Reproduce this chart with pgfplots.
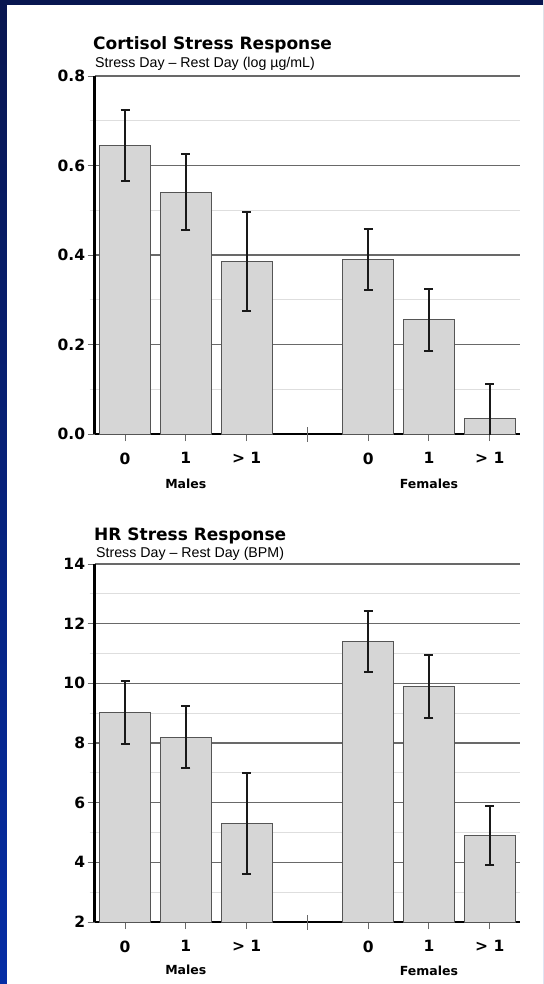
\documentclass[border=0pt]{standalone}
\usepackage{pgfplots}
\pgfplotsset{compat=1.18}
\usepackage{fontspec}
\setmainfont{DejaVu Sans}
\newfontfamily\subfont{Liberation Sans}
\definecolor{barfill}{RGB}{214,214,214}
\definecolor{baredge}{RGB}{85,85,85}
\definecolor{majgrid}{RGB}{105,105,105}
\definecolor{mingrid}{RGB}{222,222,222}
\definecolor{errc}{RGB}{25,25,25}
\definecolor{bgtop}{RGB}{8,22,80}
\definecolor{bgbot}{RGB}{5,45,165}
\pgfplotsset{
  stresschart/.style={
    scale only axis, width=425.6pt, height=358pt, anchor=south west,
    xmin=-0.5, xmax=6.5, enlargelimits=false,
    axis x line=bottom, axis y line=left,
    axis line style={-},
    x axis line style={line width=2.5pt, draw=black},
    y axis line style={line width=3pt, draw=black},
    tick align=outside, major tick length=7pt, minor tick length=5pt,
    xtick={0,1,2,4,5,6}, xticklabels={0,1,{> 1},0,1,{> 1}},
    extra x ticks={3}, extra x tick labels={},
    extra x tick style={tick align=center, major tick length=15pt},
    tick style={draw=majgrid, line width=1pt},
    minor tick style={draw=mingrid, line width=1pt},
    ymajorgrids, yminorgrids,
    major grid style={draw=majgrid, line width=1.2pt},
    minor grid style={draw=mingrid, line width=1.1pt},
    ticklabel style={font=\bfseries\fontsize{15.5}{15.5}\selectfont},
    /pgf/number format/assume math mode=true,
    xticklabel style={yshift=-8pt},
    yticklabel style={xshift=1pt},
    ybar, bar width=50.7pt,
    clip mode=individual,
  },
  stressbars/.style={fill=barfill, draw=baredge, line width=0.9pt,
    error bars/y dir=both, error bars/y explicit,
    error bars/error bar style={line width=2pt, draw=errc},
    error bars/error mark options={rotate=90, mark size=4.5pt, line width=2pt, draw=errc}},
}
\begin{document}
\begin{tikzpicture}
\path[use as bounding box, fill=bgtop] (0,0) rectangle (543pt,-984pt);
\shade[top color=bgtop, bottom color=bgbot] (0,0) rectangle (543pt,-984pt);
\fill[white] (7pt,-5pt) rectangle (543pt,-984pt);

% ---- Cortisol ----
\node[anchor=base west, inner sep=0, font=\bfseries\fontsize{17}{17}\selectfont] at (93pt,-50pt) {Cortisol Stress Response};
\node[anchor=base west, inner sep=0, font=\subfont\fontsize{14.2}{14}\selectfont] at (95pt,-67.5pt) {Stress Day – Rest Day (log µg/mL)};
\begin{axis}[stresschart, at={(94.6pt,-434pt)},
  ymin=0, ymax=0.8, ytick={0,0.2,0.4,0.6,0.8}, minor ytick={0.1,0.3,0.5,0.7},
  y tick label style={/pgf/number format/fixed, /pgf/number format/fixed zerofill, /pgf/number format/precision=1}]
\addplot[stressbars] coordinates {
  (0,0.645) +- (0,0.080)
  (1,0.540) +- (0,0.085)
  (2,0.385) +- (0,0.110)
  (4,0.390) +- (0,0.068)
  (5,0.255) +- (0,0.070)
  (6,0.035) +- (0,0.076)
};
\node[font=\bfseries\fontsize{12.5}{12.5}\selectfont] at (axis cs:1,0) [yshift=-50pt] {Males};
\node[font=\bfseries\fontsize{12.5}{12.5}\selectfont] at (axis cs:5,0) [yshift=-50pt] {Females};
\end{axis}

% ---- HR ----
\node[anchor=base west, inner sep=0, font=\bfseries\fontsize{17}{17}\selectfont] at (94pt,-540pt) {HR Stress Response};
\node[anchor=base west, inner sep=0, font=\subfont\fontsize{14.2}{14}\selectfont] at (96pt,-557.5pt) {Stress Day – Rest Day (BPM)};
\begin{axis}[stresschart, at={(94.6pt,-922pt)},
  ymin=2, ymax=14, ytick={2,4,...,14}, minor ytick={3,5,...,13}]
\addplot[stressbars] coordinates {
  (0,9.03) +- (0,1.05)
  (1,8.20) +- (0,1.05)
  (2,5.30) +- (0,1.70)
  (4,11.40) +- (0,1.03)
  (5,9.90) +- (0,1.05)
  (6,4.90) +- (0,1.00)
};
\node[font=\bfseries\fontsize{12.5}{12.5}\selectfont] at (axis cs:1,2) [yshift=-48pt] {Males};
\node[font=\bfseries\fontsize{12.5}{12.5}\selectfont] at (axis cs:5,2) [yshift=-49pt] {Females};
\end{axis}
\end{tikzpicture}
\end{document}
